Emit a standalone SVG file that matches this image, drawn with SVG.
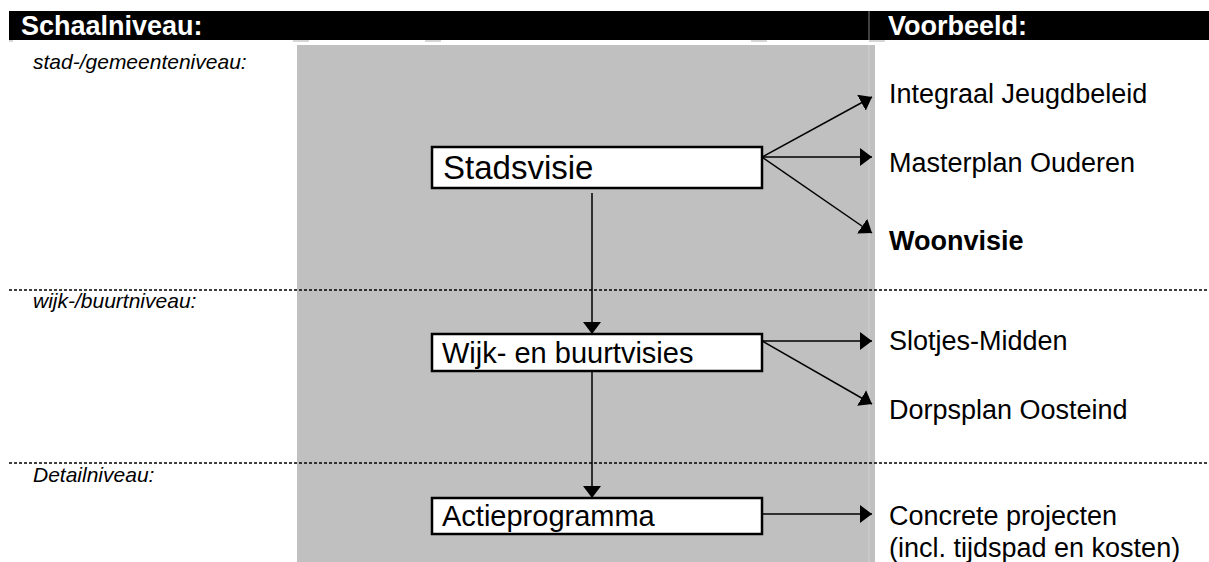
<svg xmlns="http://www.w3.org/2000/svg" width="1209" height="562" viewBox="0 0 1209 562">
<defs>
<style>
.hdr{font-family:"Liberation Sans",Arial,sans-serif;font-weight:bold;font-size:27px;fill:#fff}
.lvl{font-family:"Liberation Sans",Arial,sans-serif;font-style:italic;font-size:21px;fill:#000}
.box{fill:#fff;stroke:#000;stroke-width:2.5}
.bt{font-family:"Liberation Sans",Arial,sans-serif;font-size:29px;fill:#000}
.rt{font-family:"Liberation Sans",Arial,sans-serif;font-size:27px;fill:#000}
.dash{stroke:#000;stroke-width:1.5;stroke-dasharray:3 2;fill:none}
.con{stroke:#000;stroke-width:1.5;fill:none;marker-end:url(#ah)}
.tick{fill:#d6d6d6}
</style>
<marker id="ah" markerUnits="userSpaceOnUse" viewBox="0 0 12 18" refX="12" refY="9" markerWidth="12" markerHeight="18" orient="auto">
<path d="M0,0 L12,9 L0,18 z" fill="#000"/>
</marker>
</defs>
<g id="header">
<rect x="9" y="11" width="1200" height="29" fill="#000"/>
<line x1="869" y1="11" x2="869" y2="40" stroke="#808080" stroke-width="1"/>
<text class="hdr" x="21" y="35">Schaalniveau:</text>
<text class="hdr" x="888" y="35">Voorbeeld:</text>
<rect class="tick" x="9" y="40" width="4" height="2"/>
<rect class="tick" x="293" y="40" width="16" height="2"/>
<rect class="tick" x="425" y="40" width="16" height="2"/>
<rect class="tick" x="751" y="40" width="16" height="2"/>
<rect class="tick" x="869" y="40" width="16" height="2"/>
</g>
<g id="panel">
<rect x="297" y="45" width="578" height="517" fill="#c0c0c0"/>
<line x1="869" y1="45" x2="869" y2="562" stroke="#d2d2d2" stroke-width="1"/>
</g>
<g id="levels">
<line class="dash" x1="9" y1="290" x2="1209" y2="290"/>
<line class="dash" x1="9" y1="463" x2="1209" y2="463"/>
<text class="lvl" x="33" y="69">stad-/gemeenteniveau:</text>
<text class="lvl" x="33" y="308">wijk-/buurtniveau:</text>
<text class="lvl" x="33" y="482">Detailniveau:</text>
</g>
<g id="connectors">
<line class="con" x1="762" y1="157" x2="872" y2="97"/>
<line class="con" x1="762" y1="157" x2="872" y2="157"/>
<line class="con" x1="762" y1="157" x2="872" y2="233"/>
<line class="con" x1="592" y1="193" x2="592" y2="334"/>
<line class="con" x1="762" y1="341" x2="872" y2="341"/>
<line class="con" x1="762" y1="341" x2="872" y2="404"/>
<line class="con" x1="592" y1="371" x2="592" y2="498"/>
<line class="con" x1="762" y1="514" x2="872" y2="514"/>
</g>
<g id="stadsvisie">
<rect class="box" x="432" y="147" width="330" height="41"/>
<text class="bt" x="443" y="179" style="font-size:33px">Stadsvisie</text>
</g>
<g id="wijk">
<rect class="box" x="432" y="334" width="330" height="37"/>
<text class="bt" x="442" y="363">Wijk- en buurtvisies</text>
</g>
<g id="actie">
<rect class="box" x="432" y="498" width="330" height="36"/>
<text class="bt" x="442" y="526">Actieprogramma</text>
</g>
<g id="examples">
<text class="rt" x="889" y="103">Integraal Jeugdbeleid</text>
<text class="rt" x="889" y="172">Masterplan Ouderen</text>
<text class="rt" x="889" y="250" font-weight="bold">Woonvisie</text>
<text class="rt" x="889" y="350">Slotjes-Midden</text>
<text class="rt" x="889" y="419">Dorpsplan Oosteind</text>
<text class="rt" x="889" y="525">Concrete projecten</text>
<text class="rt" x="889" y="557">(incl. tijdspad en kosten)</text>
</g>
</svg>
